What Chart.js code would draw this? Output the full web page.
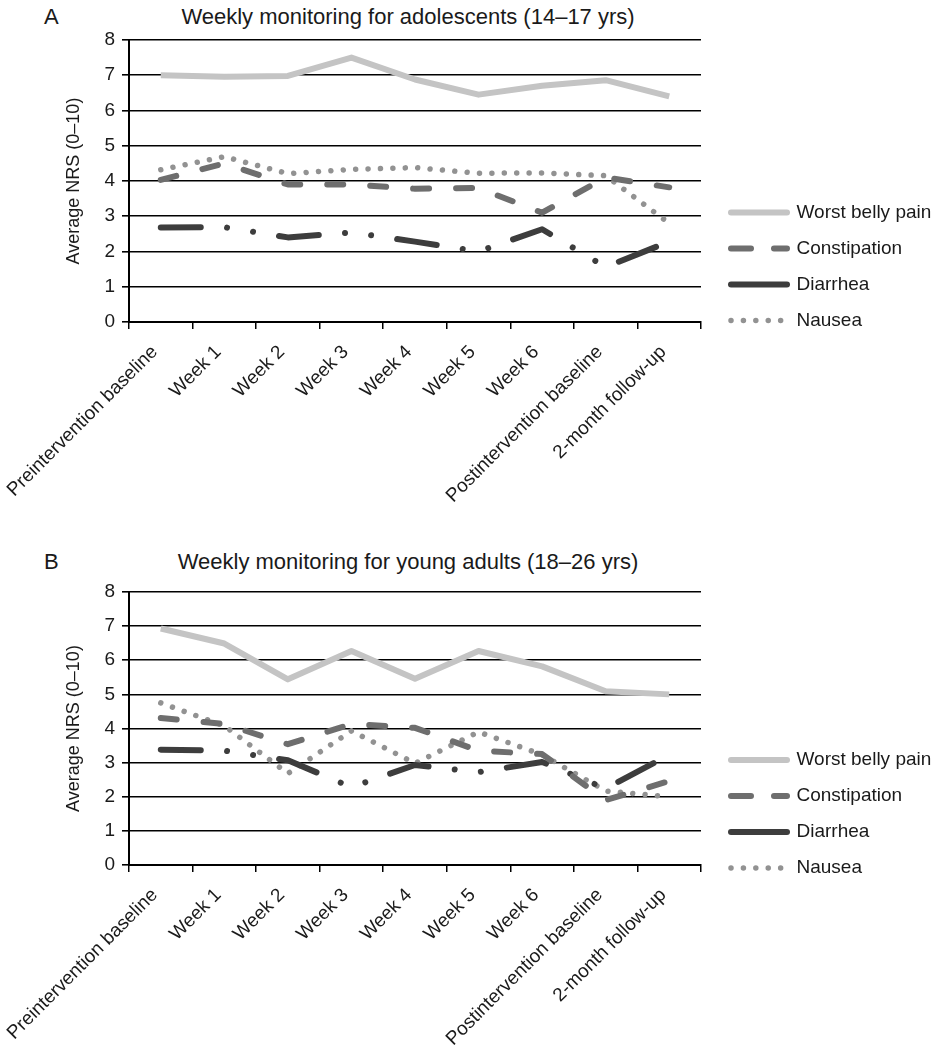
<!DOCTYPE html>
<html><head><meta charset="utf-8">
<script src="https://cdn.jsdelivr.net/npm/chart.js@4"></script>
<style>
body{margin:0;background:#fff;width:943px;height:1050px;position:relative;overflow:hidden;font-family:"Liberation Sans",Arial,sans-serif;}
.panel{position:absolute;left:0;width:943px;height:525px;}
.lbl{position:absolute;font-size:22px;line-height:26px;color:#1a1a1a;white-space:nowrap;}
.ttl{left:0;width:816px;text-align:center;}
</style></head><body>
<div class="lbl" style="left:44px;top:4px">A</div>
<div class="lbl ttl" style="top:4px">Weekly monitoring for adolescents (14–17 yrs)</div>
<div class="panel" style="top:0"><canvas id="cA" width="943" height="525"></canvas></div>
<div class="lbl" style="left:44px;top:549px">B</div>
<div class="lbl ttl" style="top:549px">Weekly monitoring for young adults (18–26 yrs)</div>
<div class="panel" style="top:525px"><canvas id="cB" width="943" height="525"></canvas></div>
<script>
const categories = ['Preintervention baseline','Week 1','Week 2','Week 3','Week 4','Week 5','Week 6','Postintervention baseline','2-month follow-up'];
const seriesNames = ['Worst belly pain','Constipation','Diarrhea','Nausea'];
const yTitle = 'Average NRS (0–10)';

// Panel A: adolescents (14–17 yrs)
const bellyA = [7.0, 6.96, 6.98, 7.5, 6.88, 6.45, 6.7, 6.86, 6.4];
const constA = [4.03, 4.5, 3.9, 3.9, 3.78, 3.8, 3.1, 4.1, 3.82];
const diarA  = [2.68, 2.69, 2.4, 2.54, 2.28, 2.0, 2.63, 1.56, 2.28];
const nausA  = [4.32, 4.69, 4.21, 4.33, 4.38, 4.22, 4.23, 4.15, 2.8];

// Panel B: young adults (18–26 yrs)
const bellyB = [6.93, 6.49, 5.44, 6.27, 5.46, 6.27, 5.82, 5.09, 5.0];
const constB = [4.31, 4.13, 3.54, 4.13, 4.02, 3.35, 3.25, 1.9, 2.46];
const diarB  = [3.38, 3.35, 3.07, 2.28, 2.93, 2.72, 3.02, 2.24, 3.23];
const nausB  = [4.75, 4.08, 2.68, 3.93, 2.98, 3.9, 3.23, 2.17, 2.0];

const FONT = "'Liberation Sans', Arial, Helvetica, sans-serif";
const styles = [
  {color:'#c4c4c4', dash:[], cap:'butt', w:6, legendDash:[], legendCap:'round'},
  {color:'#6e6e6e', dash:[16,27], cap:'round', w:6, legendDash:[20,23], legendCap:'round'},
  {color:'#3d3d3d', dash:[40,26.3,0.01,26.3,0.01,26.3], cap:'round', w:6, legendDash:[], legendCap:'round'},
  {color:'#929292', dash:[0.01,12.4], cap:'round', w:5.5, legendDash:[0.01,12.4], legendCap:'round'}
];

function makeChart(id, series, top, bottom, legendShift){
  return new Chart(document.getElementById(id), {
    type:'line',
    data:{
      labels: categories,
      datasets: series.map((d,i)=>({
        label: seriesNames[i], data: d,
        borderColor: styles[i].color, backgroundColor: styles[i].color,
        borderWidth: styles[i].w, borderDash: styles[i].dash,
        borderCapStyle: styles[i].cap, borderJoinStyle:'round',
        pointRadius:0, pointHoverRadius:0, tension:0, fill:false
      }))
    },
    options:{
      responsive:false, animation:false, devicePixelRatio:1,
      layout:{padding:{left:59, top:top, right:0, bottom:0}},
      plugins:{
        legend:{
          position:'right', align:'center',
          labels:{
            usePointStyle:true, pointStyle:'line', pointStyleWidth:56, boxHeight:19,
            padding:17, color:'#1a1a1a', font:{family:FONT, size:19},
            generateLabels(chart){
              const items = Chart.defaults.plugins.legend.labels.generateLabels(chart);
              items.forEach((it,i)=>{
                it.pointStyle='line';
                it.lineDash = styles[i].legendDash;
                it.lineCap = styles[i].legendCap;
                it.lineWidth = styles[i].w;
                it.strokeStyle = styles[i].color;
              });
              return items;
            }
          }
        },
        title:{display:false},
        tooltip:{enabled:false}
      },
      scales:{
        x:{
          type:'category', offset:true,
          grid:{display:true, drawOnChartArea:false, drawTicks:true, tickLength:7, color:'#000', lineWidth:1.5, offset:true},
          border:{display:true, color:'#000', width:2},
          ticks:{autoSkip:false, maxRotation:45, minRotation:45, color:'#1a1a1a', font:{family:FONT, size:19}, padding:12, labelOffset:-6},
          afterFit(s){ s.height = 525 - bottom; s.paddingLeft = 0; s.paddingRight = 0; }
        },
        y:{
          min:0, max:8,
          ticks:{stepSize:1, color:'#1a1a1a', font:{family:FONT, size:19}, padding:7},
          grid:{color:'#000', lineWidth:1.6, tickLength:7, drawTicks:true},
          border:{display:true, color:'#000', width:2},
          title:{display:true, text:yTitle, color:'#1a1a1a', font:{family:FONT, size:18}, padding:{top:4, bottom:4}},
          afterFit(s){ s.width = 70; }
        }
      }
    },
    plugins:[{
      id:'legendTweak',
      beforeLayout(chart){
        const l = chart.legend;
        if (l && !l._wPatched){
          const f = l.fit;
          l.fit = function(){ f.call(this); this.width += 21; };
          l._wPatched = true;
        }
      },
      afterLayout(chart){
        const l = chart.legend;
        if(l){ l.top += legendShift; l.bottom += legendShift; l.left += 13; l.right += 13; }
      }
    }]
  });
}

makeChart('cA', [bellyA, constA, diarA, nausA], 40, 322, -16);
makeChart('cB', [bellyB, constB, diarB, nausB], 67, 340, -7);
</script>
</body></html>
